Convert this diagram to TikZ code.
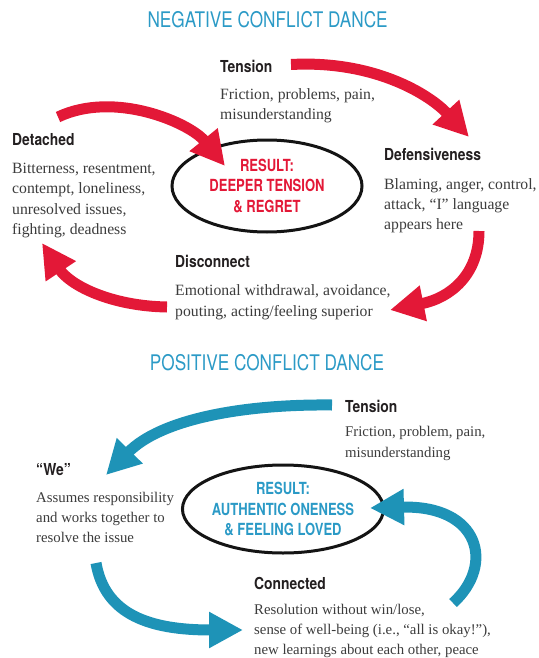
\documentclass[tikz,border=0pt]{standalone}
\usepackage{fontspec}
\setmainfont{Liberation Serif}
\newfontfamily\titlefont[FakeStretch=0.8]{TeX Gyre Heros}
\newfontfamily\condfont[FakeStretch=0.84]{TeX Gyre Heros}
\newfontfamily\resfont[FakeStretch=0.78]{TeX Gyre Heros}
\usetikzlibrary{arrows.meta,shapes.geometric}
\definecolor{negred}{HTML}{E31837}
\definecolor{posblue}{HTML}{1E93B7}
\definecolor{titleblue}{HTML}{2B9AC6}
\definecolor{headgray}{HTML}{231F20}
\definecolor{bodygray}{HTML}{3C3C3C}
\begin{document}
\begin{tikzpicture}[x=1pt,y=-1pt,
  titletext/.style={font=\titlefont\fontsize{21.5}{24}\selectfont, text=titleblue, inner sep=0},
  headtext/.style={font=\condfont\bfseries\fontsize{16.5}{20}\selectfont, text=headgray, anchor=north west, inner sep=0},
  bodytext/.style={text=bodygray, anchor=north west, align=left, inner sep=0},
  negbody/.style={bodytext, font=\fontsize{15.7}{20.3}\selectfont},
  posbody/.style={bodytext, font=\fontsize{14.8}{20.3}\selectfont},
  resultring/.style={ellipse, draw=black!92, line width=3pt, inner sep=0,
    font=\resfont\bfseries\fontsize{16.7}{20.5}\selectfont, align=center},
  bigarrow/.style={line width=11pt, -{Triangle[width=34pt,length=34pt]}}
]
\useasboundingbox (0,0) rectangle (538,658);

% ---------------- Negative ----------------
\node[titletext] (ntitle) at (267.6,19.2) {NEGATIVE CONFLICT DANCE};

\node[headtext] (ntension) at (220,60) {Tension};
\node[negbody] (ntensionb) at (220,88) {Friction, problems, pain,\\misunderstanding};

\node[headtext] (ndetached) at (12,133.3) {Detached};
\node[negbody] (ndetachedb) at (12,163) {Bitterness, resentment,\\contempt, loneliness,\\unresolved issues,\\fighting, deadness};

\node[headtext] (ndef) at (384,148.3) {Defensiveness};
\node[negbody] (ndefb) at (384,178) {Blaming, anger, control,\\attack, “I” language\\appears here};

\node[headtext] (ndisc) at (175,255) {Disconnect};
\node[negbody] (ndiscb) at (175,284.7) {Emotional withdrawal, avoidance,\\pouting, acting/feeling superior};

\node[resultring, text=negred, minimum width=190pt, minimum height=92pt] (nresult) at (267,186)
  {RESULT:\\DEEPER TENSION\\\& REGRET};

\coordinate (n1s) at (291,64.5);
\coordinate (n1e) at (469,137);
\coordinate (n2s) at (58,117);
\coordinate (n2e) at (225,166);
\coordinate (n3s) at (479,231);
\coordinate (n3e) at (390,310);
\coordinate (n4s) at (167,307);
\coordinate (n4e) at (42,243);

\draw[bigarrow, draw=negred] (n1s) .. controls (375,60) and (430,95) .. (n1e);
\draw[bigarrow, draw=negred] (n2s) .. controls (115,90) and (190,123) .. (n2e);
\draw[bigarrow, draw=negred] (n3s) .. controls (479,275) and (450,298) .. (n3e);
\draw[bigarrow, draw=negred] (n4s) .. controls (110,306) and (70,285) .. (n4e);

% ---------------- Positive ----------------
\node[titletext] (ptitle) at (267,362.2) {POSITIVE CONFLICT DANCE};

\node[headtext] (ptension) at (345,400) {Tension};
\node[posbody] (ptensionb) at (345,426.5) {Friction, problem, pain,\\misunderstanding};

\node[headtext] (pwe) at (36,463.3) {“We”};
\node[posbody] (pweb) at (36,491.7) {Assumes responsibility\\and works together to\\resolve the issue};

\node[headtext] (pconn) at (254,577.5) {Connected};
\node[posbody, font=\fontsize{14.8}{19.8}\selectfont] (pconnb) at (254,604.5) {Resolution without win/lose,\\sense of well-being (i.e., “all is okay!”),\\new learnings about each other, peace};

\node[resultring, text=titleblue, minimum width=178pt, minimum height=88pt] (presult) at (283,509)
  {RESULT:\\AUTHENTIC ONENESS\\\& FEELING LOVED};

\coordinate (p1s) at (332,405);
\coordinate (p1e) at (106,475);
\coordinate (p2s) at (96,563);
\coordinate (p2e) at (243,630);
\coordinate (p3s) at (453,603);
\coordinate (p3e) at (370,508);

\draw[bigarrow, draw=posblue] (p1s) .. controls (240,404) and (160,420) .. (p1e);
\draw[bigarrow, draw=posblue] (p2s) .. controls (105,615) and (150,630) .. (p2e);
\draw[bigarrow, draw=posblue] (p3s) .. controls (495,565) and (480,505) .. (p3e);
\end{tikzpicture}
\end{document}
